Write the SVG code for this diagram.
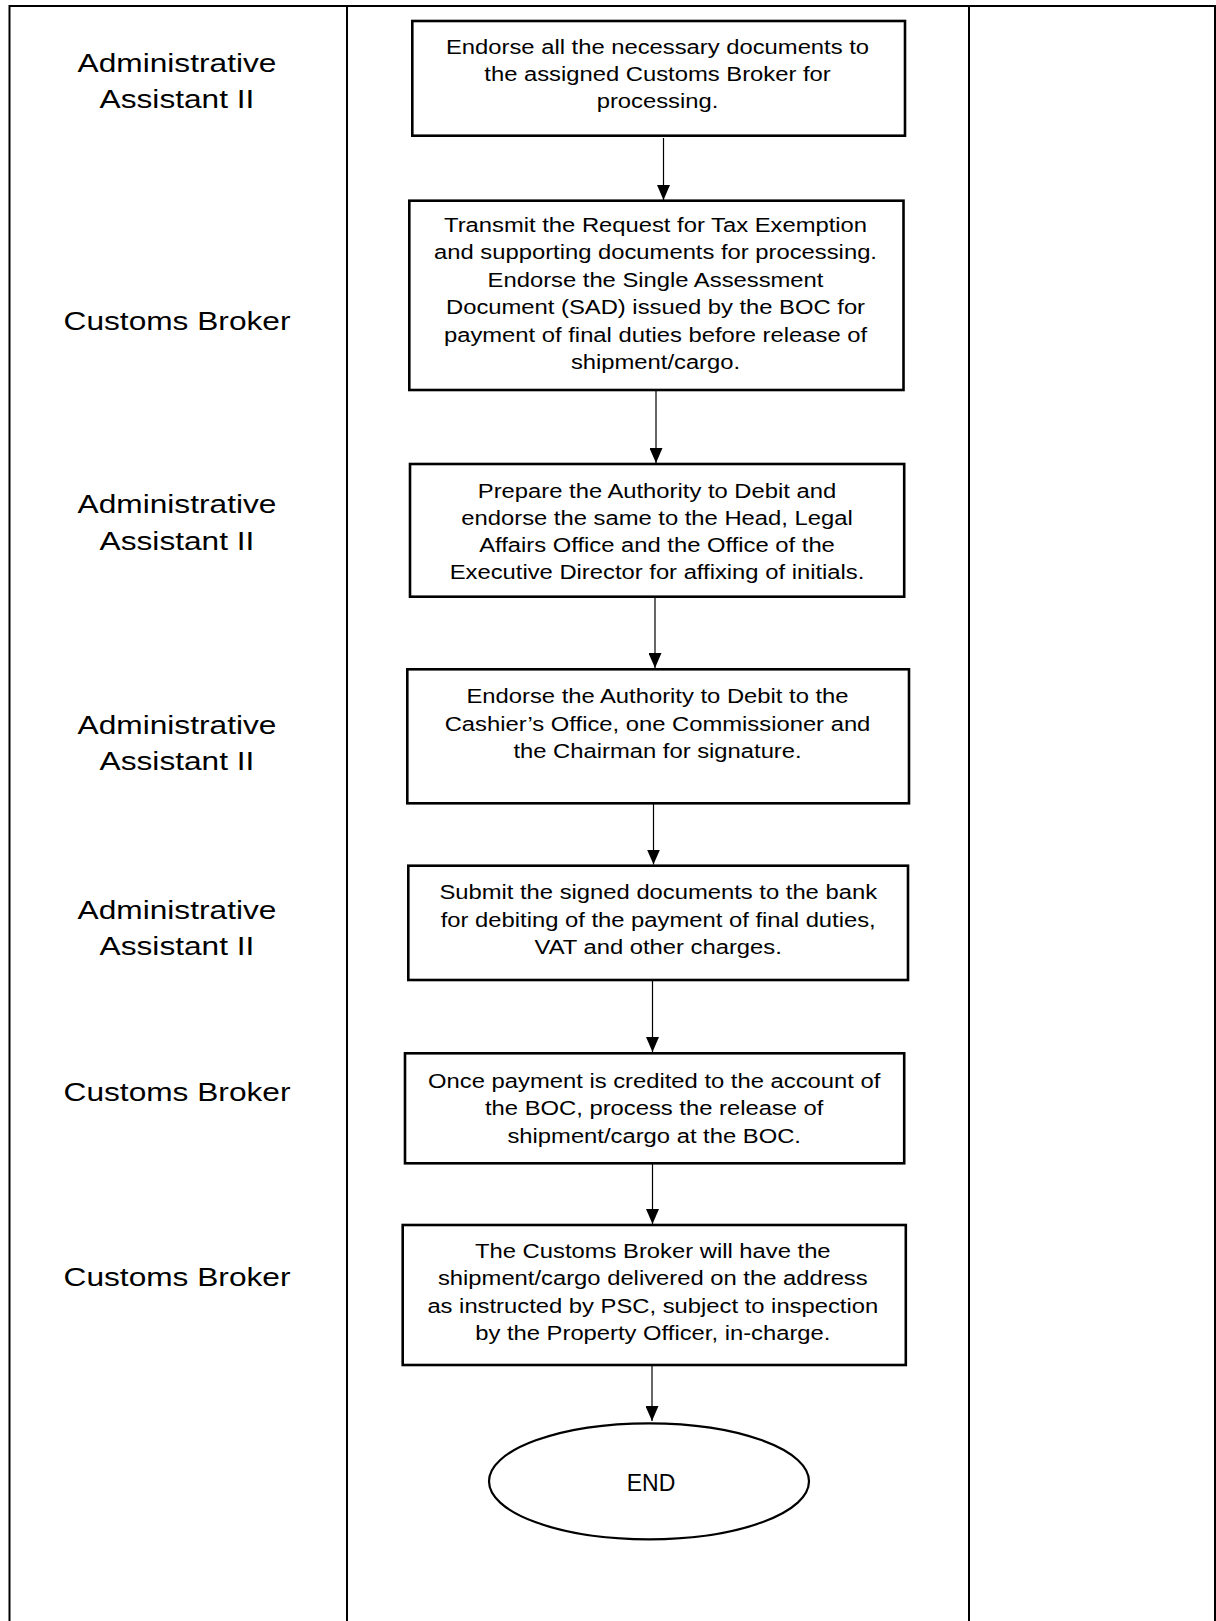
<svg xmlns="http://www.w3.org/2000/svg" width="1216" height="1621" viewBox="0 0 1216 1621">
  <style>
    .grid { stroke: #000; stroke-width: 2; fill: none; }
    .box { fill: #fff; stroke: #000; stroke-width: 2.6; }
    .term { fill: #fff; stroke: #000; stroke-width: 2.2; }
    .flow { stroke: #000; stroke-width: 1.2; fill: none; marker-end: url(#head); }
    .lane { font-family: "Liberation Sans", Arial, sans-serif; font-size: 26.5px; fill: #000; text-anchor: middle; }
    .step { font-family: "Liberation Sans", Arial, sans-serif; font-size: 20px; fill: #000; text-anchor: middle; }
    .end { font-family: "Liberation Sans", Arial, sans-serif; font-size: 23px; fill: #000; text-anchor: middle; }
  </style>
  <defs>
    <marker id="head" markerUnits="userSpaceOnUse" markerWidth="15" markerHeight="13" refX="15" refY="6.5" orient="auto">
      <path d="M0,0 L15,6.5 L0,13 z" fill="#000"/>
    </marker>
  </defs>

  <rect width="1216" height="1621" fill="#fff"/>

  <!-- table frame and column rules -->
  <g id="table">
    <path class="grid" d="M9.5,1621 V6 H1215 V1621"/>
    <path class="grid" d="M347,6 V1621 M969,6 V1621"/>
  </g>

  <!-- role labels in the left column -->
  <g id="roles">
    <g id="role1" transform="translate(177 0) scale(1.195 1)">
      <text class="lane" x="0" y="72">Administrative</text>
      <text class="lane" x="0" y="108.3">Assistant II</text>
    </g>
    <g id="role2" transform="translate(177 0) scale(1.195 1)">
      <text class="lane" x="0" y="330">Customs Broker</text>
    </g>
    <g id="role3" transform="translate(177 0) scale(1.195 1)">
      <text class="lane" x="0" y="513.5">Administrative</text>
      <text class="lane" x="0" y="550">Assistant II</text>
    </g>
    <g id="role4" transform="translate(177 0) scale(1.195 1)">
      <text class="lane" x="0" y="734">Administrative</text>
      <text class="lane" x="0" y="770.5">Assistant II</text>
    </g>
    <g id="role5" transform="translate(177 0) scale(1.195 1)">
      <text class="lane" x="0" y="919">Administrative</text>
      <text class="lane" x="0" y="955.5">Assistant II</text>
    </g>
    <g id="role6" transform="translate(177 0) scale(1.195 1)">
      <text class="lane" x="0" y="1101">Customs Broker</text>
    </g>
    <g id="role7" transform="translate(177 0) scale(1.195 1)">
      <text class="lane" x="0" y="1286">Customs Broker</text>
    </g>
  </g>

  <!-- connectors -->
  <g id="connectors">
    <line class="flow" x1="663.5" y1="138" x2="663.5" y2="200"/>
    <line class="flow" x1="656" y1="391" x2="656" y2="463"/>
    <line class="flow" x1="655" y1="598" x2="655" y2="668"/>
    <line class="flow" x1="653.5" y1="804" x2="653.5" y2="864.5"/>
    <line class="flow" x1="652.5" y1="981" x2="652.5" y2="1052"/>
    <line class="flow" x1="652.5" y1="1164" x2="652.5" y2="1224"/>
    <line class="flow" x1="652" y1="1366" x2="652" y2="1421"/>
  </g>

  <!-- process steps -->
  <g id="step1">
    <rect class="box" x="412.3" y="21" width="492.7" height="114.7"/>
    <g transform="translate(657.5 0) scale(1.19 1)">
      <text class="step" x="0" y="54.3">Endorse all the necessary documents to</text>
      <text class="step" x="0" y="81.2">the assigned Customs Broker for</text>
      <text class="step" x="0" y="108">processing.</text>
    </g>
  </g>

  <g id="step2">
    <rect class="box" x="409.3" y="200.7" width="494.2" height="189.3"/>
    <g transform="translate(655.5 0) scale(1.19 1)">
      <text class="step" x="0" y="231.7">Transmit the Request for Tax Exemption</text>
      <text class="step" x="0" y="259.2">and supporting documents for processing.</text>
      <text class="step" x="0" y="286.7">Endorse the Single Assessment</text>
      <text class="step" x="0" y="314.2">Document (SAD) issued by the BOC for</text>
      <text class="step" x="0" y="341.7">payment of final duties before release of</text>
      <text class="step" x="0" y="369.2">shipment/cargo.</text>
    </g>
  </g>

  <g id="step3">
    <rect class="box" x="410" y="464" width="494.2" height="132.7"/>
    <g transform="translate(657 0) scale(1.19 1)">
      <text class="step" x="0" y="497.7">Prepare the Authority to Debit and</text>
      <text class="step" x="0" y="524.9">endorse the same to the Head, Legal</text>
      <text class="step" x="0" y="552.1">Affairs Office and the Office of the</text>
      <text class="step" x="0" y="579.3">Executive Director for affixing of initials.</text>
    </g>
  </g>

  <g id="step4">
    <rect class="box" x="407.3" y="669.3" width="501.7" height="134"/>
    <g transform="translate(657.5 0) scale(1.19 1)">
      <text class="step" x="0" y="703.3">Endorse the Authority to Debit to the</text>
      <text class="step" x="0" y="730.8">Cashier’s Office, one Commissioner and</text>
      <text class="step" x="0" y="758.3">the Chairman for signature.</text>
    </g>
  </g>

  <g id="step5">
    <rect class="box" x="408.3" y="865.7" width="499.7" height="114.3"/>
    <g transform="translate(658.2 0) scale(1.19 1)">
      <text class="step" x="0" y="899.3">Submit the signed documents to the bank</text>
      <text class="step" x="0" y="926.8">for debiting of the payment of final duties,</text>
      <text class="step" x="0" y="954.3">VAT and other charges.</text>
    </g>
  </g>

  <g id="step6">
    <rect class="box" x="405" y="1053.3" width="499.2" height="110"/>
    <g transform="translate(654.2 0) scale(1.19 1)">
      <text class="step" x="0" y="1087.7">Once payment is credited to the account of</text>
      <text class="step" x="0" y="1115.2">the BOC, process the release of</text>
      <text class="step" x="0" y="1142.7">shipment/cargo at the BOC.</text>
    </g>
  </g>

  <g id="step7">
    <rect class="box" x="402.7" y="1225" width="503.1" height="140"/>
    <g transform="translate(652.8 0) scale(1.19 1)">
      <text class="step" x="0" y="1257.7">The Customs Broker will have the</text>
      <text class="step" x="0" y="1285.1">shipment/cargo delivered on the address</text>
      <text class="step" x="0" y="1312.6">as instructed by PSC, subject to inspection</text>
      <text class="step" x="0" y="1340">by the Property Officer, in-charge.</text>
    </g>
  </g>

  <g id="end">
    <ellipse class="term" cx="649" cy="1481.3" rx="160" ry="58"/>
    <text class="end" x="651" y="1490.7">END</text>
  </g>
</svg>
